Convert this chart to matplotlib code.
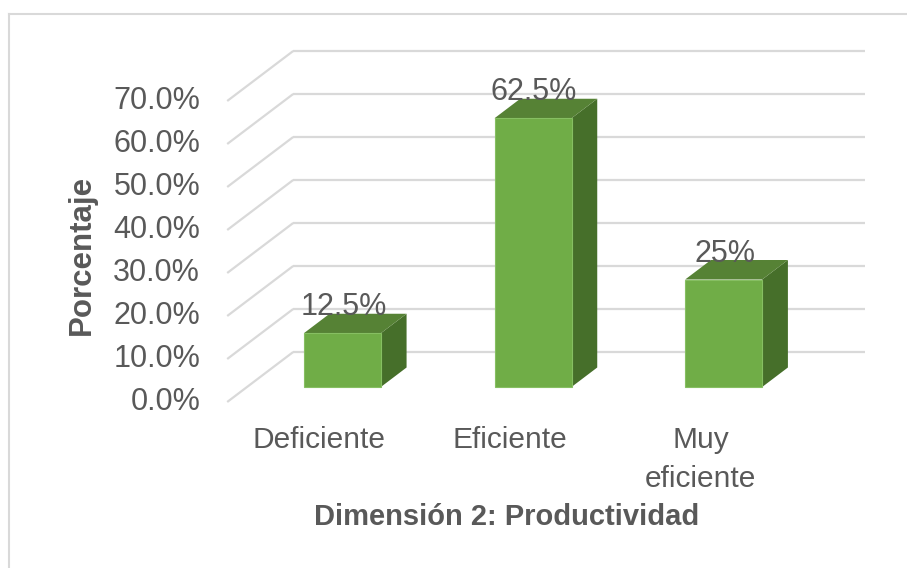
import matplotlib
matplotlib.use('Agg')
import matplotlib.pyplot as plt
from matplotlib.patches import Polygon, Rectangle
from matplotlib.lines import Line2D

plt.rcParams['font.family'] = ['Liberation Sans', 'DejaVu Sans']

# data
categorias = ['Deficiente', 'Eficiente', 'Muy\neficiente']
porcentajes = [12.5, 62.5, 25.0]
etiquetas = ['12.5%', '62.5%', '25%']
ticks = [0, 10, 20, 30, 40, 50, 60, 70]

W, H = 907, 568
texto = '#595959'
grid = '#D9D9D9'
c_front, c_top, c_side = '#70AD47', '#568235', '#466F2A'

fig = plt.figure(figsize=(W / 100, H / 100), dpi=100)

# axes = plane of the bar front faces (pixel layout of the original)
left, right, y0_px, y70_px = 247, 819, 387, 86
ax = fig.add_axes([left / W, 1 - y0_px / H, (right - left) / W, (y0_px - y70_px) / H])
ax.set_xlim(-0.5, 2.5)
ax.set_ylim(0, 70)
ax.axis('off')

px_x = (right - left) / 3.0        # pixels per category
px_y = (y0_px - y70_px) / 70.0     # pixels per percent


def depth(f):
    # depth direction of the fake 3d box, in data units
    return 66 * f / px_x, 50 * f / px_y


fx, fy = depth(-0.3)   # front edge of floor
bx, by = depth(0.7)    # back wall
dx, dy = depth(0.39)   # bar depth

# gridlines: side wall diagonal + back wall line
for t in ticks:
    ax.plot([-0.5 + fx, -0.5 + bx], [t + fy, t + by], color=grid, lw=1.6,
            clip_on=False, zorder=1, solid_capstyle='butt')
    ax.plot([-0.5 + bx, 2.5 + bx], [t + by, t + by], color=grid, lw=1.6,
            clip_on=False, zorder=1, solid_capstyle='butt')
    ax.text(-0.5 + fx - 27 / px_x, t + fy, f'{t:.1f}%', ha='right', va='center',
            fontsize=22, color=texto)

# bars
w = 77 / px_x
for i, v in enumerate(porcentajes):
    x1, x2 = i - w / 2, i + w / 2
    ax.add_patch(Polygon([(x2, 0), (x2 + dx, dy), (x2 + dx, v + dy), (x2, v)],
                         closed=True, fc=c_side, ec='none', zorder=3, clip_on=False))
    ax.add_patch(Polygon([(x1, v), (x2, v), (x2 + dx, v + dy), (x1 + dx, v + dy)],
                         closed=True, fc=c_top, ec='none', zorder=3, clip_on=False))
    ax.add_patch(Rectangle((x1, 0), w, v, fc=c_front, ec='#86BF62', lw=0.8,
                           zorder=4, clip_on=False))
    ax.text(i + 1 / px_x, v + 18 / px_y, etiquetas[i], ha='center', va='baseline',
            fontsize=22, color=texto, zorder=5)

# category labels on the floor front edge
for i, c in enumerate(categorias):
    ax.text(i - 23 / px_x, (y0_px - 426) / px_y, c, ha='center', va='top',
            fontsize=21.5, color=texto, linespacing=1.5, multialignment='center')

fig.text(507 / W, 1 - 525 / H, 'Dimensión 2: Productividad', ha='center',
         va='baseline', fontsize=21, fontweight='bold', color=texto)
fig.text(82 / W, 1 - 255 / H, 'Porcentaje', ha='center', va='center',
         rotation=90, fontsize=22.5, fontweight='bold', color=texto)

# chart border (top and left visible)
fig.add_artist(Line2D([9 / W, 1], [1 - 14 / H, 1 - 14 / H], color=grid, lw=1.5))
fig.add_artist(Line2D([9 / W, 9 / W], [0, 1 - 14 / H], color=grid, lw=1.5))

fig.savefig('out.png', dpi=100)
